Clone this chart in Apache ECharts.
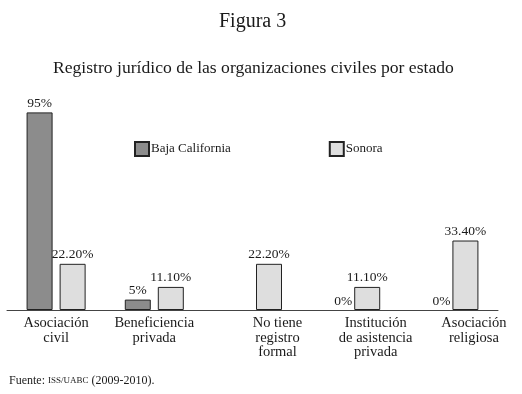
<!DOCTYPE html>
<html>
<head>
<meta charset="utf-8">
<script src="https://cdn.jsdelivr.net/npm/echarts@6/dist/echarts.min.js"></script>
<style>
  html, body { margin: 0; padding: 0; background: #fff; }
  #chart { width: 522px; height: 394px; }
</style>
</head>
<body>
<div id="chart"></div>
<script>
// datos de la figura
const categories = [
  'Asociación\ncivil',
  'Beneficiencia\nprivada',
  'No tiene\nregistro\nformal',
  'Institución\nde asistencia\nprivada',
  'Asociación\nreligiosa'
]
const seriesNames = ['Baja California', 'Sonora']
const bajaCalifornia = [95, 5, null, 0, 0]
const sonora = [22.2, 11.1, 22.2, 11.1, 33.4]

const font = '"Liberation Serif", "DejaVu Serif", serif'
const textColor = '#1a1a1a'

// las barras en cero no se dibujan, solo su etiqueta
const withZero = arr => arr.map(v => v === 0
  ? { value: 0, itemStyle: { borderWidth: 0, color: 'rgba(0,0,0,0)' }, label: { offset: [9, 0] } }
  : v)

const myChart = echarts.init(document.getElementById('chart'))

const option = {
  backgroundColor: '#fff',
  animation: false,
  textStyle: { fontFamily: font, color: textColor },
  title: [
    {
      text: 'Figura 3',
      left: 219,
      top: 12,
      padding: 0,
      textStyle: { fontFamily: font, fontSize: 20, fontWeight: 'normal', color: textColor }
    },
    {
      text: 'Registro jurídico de las organizaciones civiles por estado',
      left: 53,
      top: 59,
      padding: 0,
      textStyle: { fontFamily: font, fontSize: 17.6, fontWeight: 'normal', color: textColor }
    },
    {
      text: 'Fuente: {sc|ISS/UABC} (2009-2010).',
      left: 9,
      top: 375,
      padding: 0,
      textStyle: {
        fontFamily: font, fontSize: 12, fontWeight: 'normal', color: textColor,
        rich: { sc: { fontFamily: font, fontSize: 9, color: textColor } }
      }
    }
  ],
  legend: {
    data: seriesNames,
    left: 134,
    top: 141,
    padding: 0,
    itemGap: 98,
    itemWidth: 14,
    itemHeight: 14,
    icon: 'rect',
    textStyle: { fontFamily: font, fontSize: 13, color: textColor, padding: [0, 0, 0, -3] }
  },
  grid: { left: 7, right: 24, top: 102, bottom: 84 },
  xAxis: {
    type: 'category',
    data: categories,
    axisLine: { lineStyle: { color: '#444', width: 1 } },
    axisTick: { show: false },
    axisLabel: {
      margin: 6,
      interval: 0,
      fontFamily: font,
      fontSize: 14.5,
      lineHeight: 14.5,
      color: textColor,
      formatter: (value, index) => {
        if (index < 2) return value
        return value.split('\n').map(s => '{r|' + s + '}').join('\n')
      },
      rich: {
        r: { fontFamily: font, fontSize: 14.5, lineHeight: 14.5, color: textColor, padding: [0, 0, 0, 50] }
      }
    }
  },
  yAxis: {
    type: 'value',
    min: 0,
    max: 100,
    show: false,
    splitLine: { show: false }
  },
  series: [
    {
      name: seriesNames[0],
      type: 'bar',
      data: withZero(bajaCalifornia),
      barWidth: 26,
      barGap: '27%',
      itemStyle: { color: '#8c8c8c', borderColor: '#222', borderWidth: 1 },
      label: {
        show: true,
        position: 'top',
        distance: 2,
        fontFamily: font,
        fontSize: 13.5,
        color: textColor,
        formatter: p => p.value + '%'
      }
    },
    {
      name: seriesNames[1],
      type: 'bar',
      data: sonora,
      barWidth: 26,
      itemStyle: { color: '#dedede', borderColor: '#222', borderWidth: 1 },
      label: {
        show: true,
        position: 'top',
        distance: 2,
        fontFamily: font,
        fontSize: 13.5,
        color: textColor,
        formatter: p => p.value.toFixed(2) + '%'
      }
    }
  ]
}

myChart.setOption(option)
</script>
</body>
</html>
